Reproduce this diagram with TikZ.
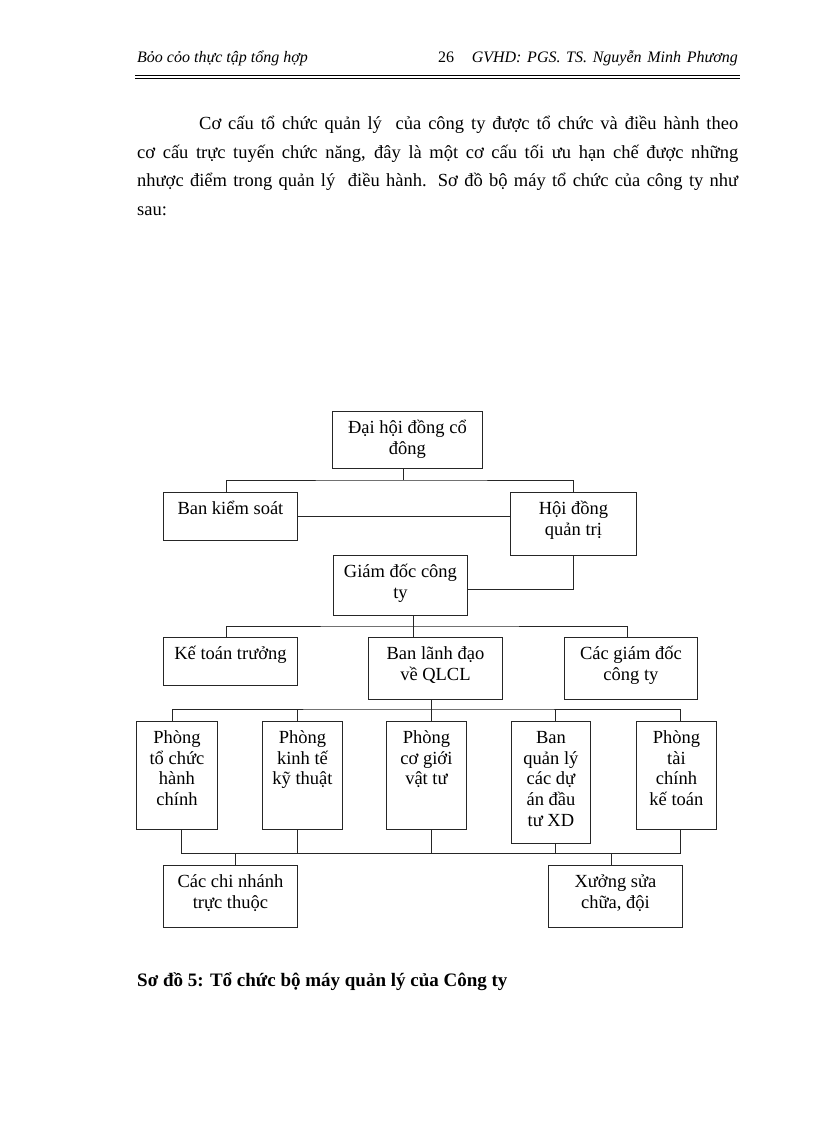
\documentclass[tikz,border=0pt]{standalone}
\usepackage{fontspec}
\setmainfont{Liberation Serif}
\newcommand{\orgfont}{\fontsize{18.5}{20.7}\selectfont}
\newcommand{\mypara}{\fontsize{18.5}{22}\selectfont}
\newcommand{\mycap}{\fontsize{19}{22}\selectfont}
\newcommand{\myhead}{\fontsize{16}{19}\selectfont}
\tikzset{
  orgb/.style={draw=black!85, line width=0.9pt, inner sep=0pt, anchor=north west},
  conn/.style={draw=black!85, line width=0.9pt},
  txt/.style={inner sep=0pt, anchor=base west},
}
\newcommand{\orgbox}[6]{%
  \node[orgb] (#1) at (#2,#3) {\parbox[c][#5pt][t]{#4pt}{\centering\orgfont\rule{0pt}{22pt}#6\par}};}
\begin{document}
\begin{tikzpicture}[x=1pt,y=-1pt]
\fill[white] (0,0) rectangle (816,1123);
\useasboundingbox (0,0) rectangle (816,1123);

% header
\node[txt, font=\myhead\itshape] (h1) at (137,63) {Bỏo cỏo thực tập tổng hợp};
\node[txt, font=\myhead] (h2) at (438,63) {26};
\node[txt, anchor=base east, font=\myhead\itshape] (h3) at (738,63) {\makebox[266pt][s]{GVHD: PGS. TS. Nguyễn Minh Phương}};
\draw[line width=0.7pt] (135,75) -- (740,75);
\draw[line width=0.7pt] (135,78.5) -- (740,78.5);

% paragraph
\node[txt, font=\mypara] (l1) at (199,130) {\makebox[539pt][s]{Cơ cấu tổ chức quản lý\ \ của công ty được tổ chức và điều hành theo}};
\node[txt, font=\mypara] (l2) at (137,158.5) {\makebox[601pt][s]{cơ cấu trực tuyến chức năng, đây là một cơ cấu tối ưu hạn chế được những}};
\node[txt, font=\mypara] (l3) at (137,187) {\makebox[601pt][s]{nhược điểm trong quản lý\ \ điều hành. Sơ đồ bộ máy tổ chức của công ty như}};
\node[txt, font=\mypara] (l4) at (137,215) {sau:};

% boxes
\orgbox{dh}{332}{411}{150}{57}{Đại hội đồng cổ\\đông}
\orgbox{bks}{163}{492}{134}{48}{Ban kiểm soát}
\orgbox{hd}{510}{492}{126}{63}{Hội đồng\\quản trị}
\orgbox{gd}{333}{555}{134}{60}{Giám đốc công\\ty}
\orgbox{ktt}{163}{637}{134}{48}{Kế toán trưởng}
\orgbox{bld}{368}{637}{134}{62}{Ban lãnh đạo\\về QLCL}
\orgbox{cgd}{564}{637}{133}{62}{Các giám đốc\\công ty}
\orgbox{p1}{136}{721}{81}{108}{Phòng\\tổ chức\\hành\\chính}
\orgbox{p2}{262}{721}{80}{108}{Phòng\\kinh tế\\kỹ thuật}
\orgbox{p3}{386}{721}{80}{108}{Phòng\\cơ giới\\vật tư}
\orgbox{p4}{511}{721}{79}{122}{Ban\\quản lý\\các dự\\án đầu\\tư XD}
\orgbox{p5}{636}{721}{80}{108}{Phòng\\tài\\chính\\kế toán}
\orgbox{cn}{163}{865}{134}{62}{Các chi nhánh\\trực thuộc}
\orgbox{xs}{548}{865}{134}{62}{Xưởng sửa\\chữa, đội}

% connectors level 1
\coordinate (j1) at (403,480);
\draw[conn] (dh.south -| j1) -- (j1);
\draw[conn] (bks.north -| 226,0) |- (j1) -| (hd.north -| 573,0);
\draw[conn] (bks.east |- 0,516) -- (hd.west |- 0,516);
\draw[conn] (hd.south -| 573,0) |- (gd.east |- 0,589);

% level 2
\coordinate (j2) at (413,626);
\draw[conn] (gd.south -| j2) -- (bld.north -| j2);
\draw[conn] (ktt.north -| 226,0) |- (j2) -| (cgd.north -| 627,0);

% level 3
\coordinate (j3) at (431,709);
\draw[conn] (bld.south -| j3) -- (p3.north -| j3);
\draw[conn] (p1.north -| 172,0) |- (j3) -| (p5.north -| 680,0);
\draw[conn] (p2.north -| 297,0) -- (j3 -| 297,0);
\draw[conn] (p4.north -| 555,0) -- (j3 -| 555,0);

% lower bus
\coordinate (j4) at (431,853);
\draw[conn] (p1.south -| 181,0) |- (j4) -| (p5.south -| 680,0);
\draw[conn] (p2.south -| 297,0) -- (j4 -| 297,0);
\draw[conn] (p3.south -| j4) -- (j4);
\draw[conn] (p4.south -| 555,0) -- (j4 -| 555,0);
\draw[conn] (j4 -| 235,0) -- (cn.north -| 235,0);
\draw[conn] (j4 -| 611,0) -- (xs.north -| 611,0);

% caption
\node[txt, font=\mycap\bfseries] (cap) at (137,986) {Sơ đồ 5: Tổ chức bộ máy quản lý của Công ty};
\end{tikzpicture}
\end{document}
